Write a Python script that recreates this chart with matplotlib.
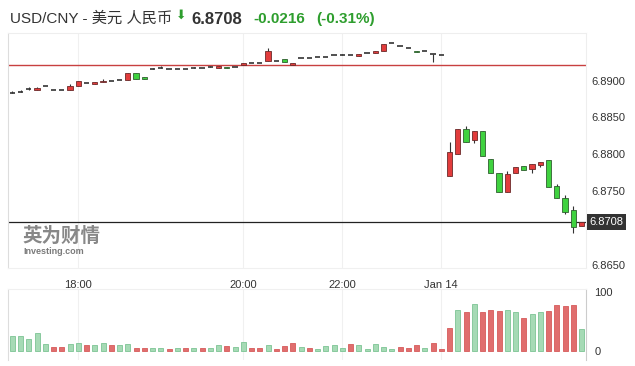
import numpy as np
import matplotlib.pyplot as plt
from matplotlib.transforms import blended_transform_factory

# 蜡烛图数据 (每根K线: 开 高 低 收)
opens = [6.8883, 6.8885, 6.8889, 6.8888, 6.8893, 6.8888, 6.8888, 6.8888, 6.8893, 6.8897,
         6.8896, 6.8898, 6.8900, 6.8901, 6.8901, 6.8911, 6.8905, 6.8916, 6.8917, 6.8916,
         6.8916, 6.8916, 6.8917, 6.8917, 6.8918, 6.8917, 6.8919, 6.8918, 6.8922, 6.8924,
         6.8924, 6.8927, 6.8927, 6.8930, 6.8921, 6.8931, 6.8931, 6.8932, 6.8932, 6.8935,
         6.8935, 6.8935, 6.8934, 6.8938, 6.8938, 6.8941, 6.8951, 6.8947, 6.8944, 6.8941,
         6.8941, 6.8936, 6.8935, 6.8771, 6.8800, 6.8834, 6.8820, 6.8831, 6.8793, 6.8774,
         6.8748, 6.8774, 6.8784, 6.8780, 6.8786, 6.8792, 6.8757, 6.8741, 6.8724, 6.8702]
highs = [6.8886, 6.8887, 6.8891, 6.8891, 6.8893, 6.8888, 6.8888, 6.8895, 6.8899, 6.8897,
         6.8898, 6.8902, 6.8900, 6.8901, 6.8911, 6.8911, 6.8905, 6.8917, 6.8920, 6.8916,
         6.8916, 6.8916, 6.8919, 6.8917, 6.8920, 6.8920, 6.8919, 6.8918, 6.8924, 6.8924,
         6.8924, 6.8945, 6.8927, 6.8930, 6.8924, 6.8931, 6.8931, 6.8932, 6.8932, 6.8935,
         6.8937, 6.8935, 6.8936, 6.8938, 6.8941, 6.8950, 6.8951, 6.8947, 6.8944, 6.8941,
         6.8941, 6.8936, 6.8935, 6.8816, 6.8834, 6.8838, 6.8831, 6.8831, 6.8793, 6.8774,
         6.8777, 6.8783, 6.8784, 6.8787, 6.8790, 6.8792, 6.8760, 6.8744, 6.8730, 6.8708]
lows = [6.8883, 6.8885, 6.8887, 6.8888, 6.8893, 6.8888, 6.8888, 6.8888, 6.8893, 6.8897,
        6.8896, 6.8898, 6.8900, 6.8901, 6.8901, 6.8903, 6.8903, 6.8916, 6.8917, 6.8916,
        6.8916, 6.8916, 6.8917, 6.8917, 6.8918, 6.8917, 6.8917, 6.8918, 6.8922, 6.8924,
        6.8924, 6.8927, 6.8927, 6.8926, 6.8921, 6.8931, 6.8931, 6.8932, 6.8932, 6.8935,
        6.8935, 6.8935, 6.8934, 6.8938, 6.8938, 6.8941, 6.8951, 6.8947, 6.8944, 6.8939,
        6.8941, 6.8925, 6.8935, 6.8771, 6.8800, 6.8816, 6.8815, 6.8797, 6.8774, 6.8748,
        6.8748, 6.8774, 6.8779, 6.8775, 6.8783, 6.8756, 6.8740, 6.8719, 6.8693, 6.8702]
closes = [6.8883, 6.8885, 6.8889, 6.8890, 6.8893, 6.8888, 6.8888, 6.8893, 6.8899, 6.8897,
          6.8898, 6.8900, 6.8900, 6.8901, 6.8911, 6.8903, 6.8903, 6.8916, 6.8917, 6.8916,
          6.8916, 6.8916, 6.8917, 6.8917, 6.8918, 6.8920, 6.8917, 6.8918, 6.8924, 6.8924,
          6.8924, 6.8941, 6.8927, 6.8926, 6.8924, 6.8931, 6.8931, 6.8932, 6.8932, 6.8935,
          6.8935, 6.8935, 6.8936, 6.8938, 6.8941, 6.8950, 6.8951, 6.8947, 6.8944, 6.8939,
          6.8941, 6.8936, 6.8935, 6.8803, 6.8834, 6.8816, 6.8831, 6.8797, 6.8774, 6.8748,
          6.8773, 6.8783, 6.8779, 6.8787, 6.8790, 6.8756, 6.8740, 6.8722, 6.8701, 6.8708]

# 成交量 (0-100) 以及涨跌方向 (1 = 涨, 0 = 跌)
volumes = [24.8, 24.8, 19.7, 30.4, 11.1, 5.5, 5.5, 11.0, 12.3, 9.4,
           9.4, 12.3, 9.4, 9.4, 11.0, 4.3, 4.3, 3.7, 3.7, 2.6,
           3.7, 3.7, 3.7, 4.3, 3.7, 9.4, 7.7, 5.4, 14.0, 3.7,
           3.7, 8.8, 3.0, 8.3, 12.8, 5.4, 3.7, 2.6, 7.7, 9.4,
           4.8, 11.1, 9.4, 2.6, 11.1, 5.4, 2.6, 5.4, 3.7, 9.4,
           4.8, 12.8, 2.6, 38.5, 69.2, 66.4, 79.5, 66.4, 69.2, 68.1,
           69.2, 65.8, 55.6, 62.4, 65.8, 68.1, 77.8, 76.7, 77.8, 36.8]
vol_up = [1, 1, 1, 1, 1, 0, 0, 1, 1, 0,
          1, 1, 0, 1, 1, 0, 0, 1, 1, 0,
          1, 0, 1, 0, 1, 1, 0, 1, 1, 0,
          0, 1, 0, 0, 0, 1, 0, 1, 1, 1,
          1, 0, 1, 1, 1, 1, 1, 0, 0, 0,
          1, 0, 0, 0, 1, 0, 1, 0, 0, 0,
          1, 1, 0, 1, 1, 0, 0, 0, 0, 1]

prev_close = 6.8922
last_price = 6.8708
price_ticks = [6.8650, 6.8750, 6.8800, 6.8850, 6.8900]
time_ticks = [8, 28, 40, 52]
time_labels = ["18:00", "20:00", "22:00", "Jan 14"]
vol_ticks = [0, 100]

plt.rcParams['font.family'] = ['Liberation Sans', 'Noto Sans CJK SC', 'DejaVu Sans']

W, H = 635, 366
fig = plt.figure(figsize=(W / 100, H / 100), dpi=100)


def box(x0, y0, x1, y1):
    # 像素坐标 -> figure 比例
    return [x0 / W, 1 - y1 / H, (x1 - x0) / W, (y1 - y0) / H]


ax = fig.add_axes(box(8, 33, 586, 268))
axv = fig.add_axes(box(8, 289, 586, 360))

o = np.array(opens)
c = np.array(closes)
x = np.arange(len(o))
up = c > o
down = c < o
flat = c == o

# K线
ax.vlines(x, lows, highs, color='#333333', lw=0.8, zorder=2)
ax.bar(x[up], (c - o)[up], bottom=o[up], width=0.62, color='#e23c3c',
       edgecolor='#6b2a2a', lw=0.6, zorder=3)
ax.bar(x[down], (o - c)[down], bottom=c[down], width=0.62, color='#3fd23f',
       edgecolor='#2f5f2f', lw=0.6, zorder=3)
ax.hlines(o[flat], x[flat] - 0.31, x[flat] + 0.31, color='#333333', lw=1.2, zorder=3)

ax.axhline(prev_close, color='#c84040', lw=1.0, zorder=1)
ax.axhline(last_price, color='#222222', lw=0.9, zorder=1)

ax.set_xlim(-0.52, 69.54)
ax.set_ylim(6.86453, 6.89649)
ax.set_xticks(time_ticks)
ax.set_xticklabels(time_labels)
ax.set_yticks(price_ticks)
ax.set_yticklabels([f"{p:.4f}" for p in price_ticks])
ax.yaxis.tick_right()
ax.tick_params(length=0, labelsize=8, colors='#333333')
ax.tick_params(axis='x', pad=9)
ax.tick_params(axis='y', pad=4)
ax.grid(axis='x', color='#f0f0f0', lw=0.8)
ax.set_axisbelow(True)
ax.spines['left'].set_color('#dddddd')
ax.spines['top'].set_color('#eeeeee')
ax.spines['right'].set_color('#eeeeee')
ax.spines['bottom'].set_color('#f0f0f0')

# 最新价标签
trans = blended_transform_factory(ax.transAxes, ax.transData)
ax.text(1.006, last_price, f"{last_price:.4f}", transform=trans, ha='left', va='center',
        color='white', fontsize=8, clip_on=False,
        bbox=dict(boxstyle='square,pad=0.25', fc='#333333', ec='none'))

# 成交量
vcol = ['#a6dab5' if u else '#e06e6e' for u in vol_up]
vedge = ['#7cc494' if u else '#d65a5a' for u in vol_up]
axv.bar(x, volumes, width=0.6, color=vcol, edgecolor=vedge, lw=0.6)
axv.set_xlim(-0.52, 69.54)
axv.set_ylim(-16.2, 105)
axv.set_xticks(time_ticks)
axv.set_xticklabels([])
axv.set_yticks(vol_ticks)
axv.yaxis.tick_right()
axv.tick_params(length=0, labelsize=8, colors='#333333', pad=6)
axv.grid(axis='x', color='#f0f0f0', lw=0.8)
axv.set_axisbelow(True)
axv.spines['left'].set_color('#dddddd')
axv.spines['top'].set_color('#f0f0f0')
axv.spines['right'].set_color('#cccccc')
axv.spines['bottom'].set_visible(False)

# 标题
fig.text(10 / W, 1 - 19 / H, "USD/CNY - 美元 人民币", fontsize=11, color='#333333',
         ha='left', va='center')
fig.text(181 / W, 1 - 15 / H, "⬇", fontsize=9, color='#2e9e2e', ha='center', va='center',
         family=['DejaVu Sans'])
fig.text(191 / W, 1 - 19 / H, "6.8708", fontsize=12, fontweight='bold', color='#333333',
         ha='left', va='center')
fig.text(253 / W, 1 - 19 / H, "-0.0216", fontsize=11, fontweight='bold', color='#2e9e2e',
         ha='left', va='center')
fig.text(316 / W, 1 - 19 / H, "(-0.31%)", fontsize=11, fontweight='bold', color='#2e9e2e',
         ha='left', va='center')

# 水印
fig.text(22 / W, 1 - 236 / H, "英为财情", fontsize=14, fontweight='bold', color='#888888',
         ha='left', va='center', family=['Noto Sans CJK SC'])
fig.text(23 / W, 1 - 251 / H, "Investing.com", fontsize=6.5, fontweight='bold',
         color='#7a7a7a', ha='left', va='center')

fig.savefig('out.png', dpi=100)
